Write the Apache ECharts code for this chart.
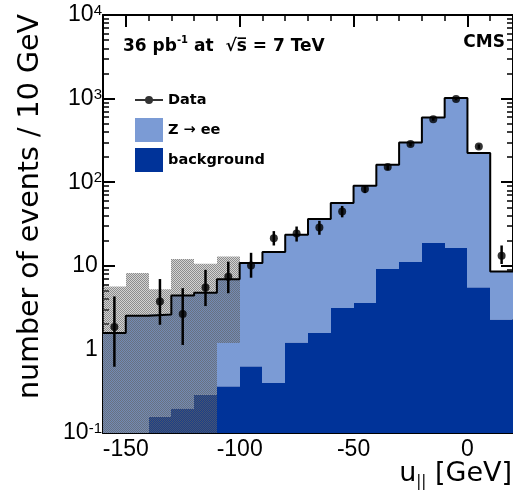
<!DOCTYPE html>
<html>
<head>
<meta charset="utf-8">
<script src="https://cdn.jsdelivr.net/npm/echarts@6/dist/echarts.min.js"></script>
<style>
  html, body { margin: 0; padding: 0; background: #fff; }
  #chart { width: 513px; height: 498px; }
</style>
</head>
<body>
<div id="chart"></div>
<script>
// u_parallel distribution in 10 GeV bins from -160 to 20 GeV
const binWidth = 10;
const binCenters = [-155, -145, -135, -125, -115, -105, -95, -85, -75, -65, -55, -45, -35, -25, -15, -5, 5, 15];

// stacked prediction: total (Z -> ee + background) and the background alone
const totalMC = [1.57, 2.52, 2.62, 4.4, 4.75, 6.9, 10.8, 14.6, 23.5, 36.2, 56.2, 90.6, 161.5, 298, 594, 1014, 223, 8.55];
const background = [null, null, 0.156, 0.194, 0.286, 0.36, 0.624, 0.395, 1.2, 1.57, 3.12, 3.58, 9.13, 11.1, 18.7, 16.3, 5.5, 2.26];

// hatched band over the low tail (null low edge = below the axis range)
const bandCenters = [-155, -145, -135, -125, -115, -105];
const bandLow = [null, null, null, null, null, 1.19];
const bandHigh = [5.65, 8.2, 5.26, 12.1, 10.6, 12.9];

// measured events with vertical error bars
const dataX = [-155, -135, -125, -115, -105, -95, -85, -75, -65, -55, -45, -35, -25, -15, -5, 5, 15];
const dataY = [1.85, 3.74, 2.66, 5.5, 7.4, 10.1, 21.4, 24.3, 28.7, 44.6, 82.7, 151.6, 285.6, 568, 986, 267, 13.2];
const dataLow = [0.62, 1.97, 1.13, 3.3, 4.7, 7.2, 17.5, 19.5, 23.5, 38, 74, 140, 269, 544, 955, 251, 10.5];
const dataHigh = [4.3, 6.94, 5.4, 8.95, 11.2, 14.3, 26, 29.5, 34.5, 52, 92, 164, 303, 592, 1017, 283, 17.5];

// axis ticks and labels
const xMin = -160, xMax = 20;
const yMin = 0.1, yMax = 10000;
const xMajorTicks = [-150, -100, -50, 0];
const xTickLabels = ['-150', '-100', '-50', '0'];
const yMajorTicks = [0.1, 1, 10, 100, 1000, 10000];
const yTickBase = ['10', '1', '10', '10', '10', '10'];
const yTickExp = ['-1', '', '', '2', '3', '4'];

const xMinorTicks = [];
for (let v = xMin; v <= xMax; v += 10) xMinorTicks.push(v);
const yMinorTicks = [];
for (let d = -1; d <= 3; d++) {
  for (let k = 2; k <= 9; k++) yMinorTicks.push(+(k * Math.pow(10, d)).toPrecision(6));
}

const colZee = '#7b9bd5';
const colBkg = '#003399';

// soft checkered grey fill for the hatched band
function makeHatch() {
  const c = document.createElement('canvas');
  c.width = 2; c.height = 2;
  const g = c.getContext('2d');
  g.fillStyle = 'rgba(97,97,97,0.72)';
  g.fillRect(0, 0, 1, 1);
  g.fillRect(1, 1, 1, 1);
  g.fillStyle = 'rgba(97,97,97,0.28)';
  g.fillRect(1, 0, 1, 1);
  g.fillRect(0, 1, 1, 1);
  return c;
}
const hatchFill = { image: makeHatch(), repeat: 'repeat' };

// box spanning one bin between a low and a high value (snapped to whole pixels)
function binBox(fill) {
  return function (params, api) {
    const c = api.value(0);
    const hi = api.value(1);
    const lo = api.value(2);
    const p0 = api.coord([c - binWidth / 2, hi]);
    const p1 = api.coord([c + binWidth / 2, lo]);
    const x0 = Math.round(p0[0]);
    const x1 = Math.round(p1[0]);
    return {
      type: 'rect',
      shape: { x: x0, y: p0[1], width: x1 - x0, height: p1[1] - p0[1] },
      style: { fill: fill }
    };
  };
}

const zeeData = binCenters.map((c, i) => [c, totalMC[i], background[i] != null ? background[i] : yMin]);
const bkgData = [];
binCenters.forEach((c, i) => { if (background[i] != null) bkgData.push([c, background[i], yMin]); });
const bandData = bandCenters.map((c, i) => [c, bandHigh[i], bandLow[i] != null ? bandLow[i] : yMin]);

// step outline of the total prediction, drawn from the bin edges
const stepData = binCenters.map((c, i) => [c - binWidth / 2, totalMC[i]]);
stepData.push([binCenters[binCenters.length - 1] + binWidth / 2, totalMC[totalMC.length - 1]]);

const pointData = dataX.map((x, i) => [x, dataY[i]]);
const errData = dataX.map((x, i) => [x, dataHigh[i], dataLow[i]]);

const black = '#000';
const lineStyle = { color: black, width: 2 };

function xAxisDef(pos, ticks, len, withLine, withLabels) {
  return {
    type: 'value', min: xMin, max: xMax, position: pos,
    axisLine: { show: withLine, onZero: false, lineStyle: lineStyle },
    axisTick: { show: true, inside: true, length: len, customValues: ticks, lineStyle: { color: black, width: len > 8 ? 2 : 1.5 } },
    axisLabel: withLabels ? {
      show: true, customValues: xMajorTicks, margin: 5,
      fontSize: 23, fontFamily: 'Liberation Sans', color: black,
      formatter: v => xTickLabels[xMajorTicks.indexOf(v)]
    } : { show: false },
    splitLine: { show: false }
  };
}

function yAxisDef(pos, ticks, len, withLine, withLabels) {
  return {
    type: 'log', logBase: 10, min: yMin, max: yMax, position: pos,
    axisLine: { show: withLine, onZero: false, lineStyle: lineStyle },
    axisTick: { show: true, inside: true, length: len, customValues: ticks, lineStyle: { color: black, width: len > 8 ? 2 : 1.5 } },
    axisLabel: withLabels ? {
      show: true, customValues: yMajorTicks, margin: 1,
      formatter: v => {
        const e = Math.round(Math.log10(v));
        const i = yMajorTicks.findIndex(t => Math.round(Math.log10(t)) === e);
        return '{b|' + yTickBase[i] + '}{s|' + (yTickExp[i] || ' ') + '}';
      },
      rich: {
        b: { fontSize: 23, fontFamily: 'Liberation Sans', color: black, lineHeight: 23, verticalAlign: 'bottom' },
        s: { fontSize: 15, fontFamily: 'Liberation Sans', color: black, lineHeight: 15, padding: [0, 0, 14, 0], verticalAlign: 'top' }
      }
    } : { show: false },
    splitLine: { show: false }
  };
}

const chart = echarts.init(document.getElementById('chart'), null, { renderer: 'canvas' });
chart.setOption({
  animation: false,
  backgroundColor: '#fff',
  grid: { left: 103, top: 15, right: -1, bottom: 65, containLabel: false },
  xAxis: [
    xAxisDef('bottom', xMajorTicks, 12, true, true),
    xAxisDef('bottom', xMinorTicks, 6, false, false),
    xAxisDef('top', xMajorTicks, 12, true, false),
    xAxisDef('top', xMinorTicks, 6, false, false)
  ],
  yAxis: [
    yAxisDef('left', yMajorTicks, 12, true, true),
    yAxisDef('left', yMinorTicks, 6, false, false),
    yAxisDef('right', yMajorTicks, 12, true, false),
    yAxisDef('right', yMinorTicks, 6, false, false)
  ],
  legend: {
    orient: 'vertical', left: 130, top: 83,
    itemWidth: 28, itemHeight: 24, itemGap: 6,
    selectedMode: false,
    textStyle: { fontFamily: 'DejaVu Sans', fontWeight: 'bold', fontSize: 14.5, color: black },
    data: [
      { name: 'Data', icon: 'path://M0,0M28,24M0,11h28v2H0zM18,12a4,4 0 1 1 -8,0a4,4 0 1 1 8,0z' },
      { name: 'Z → ee', icon: 'rect' },
      { name: 'background', icon: 'rect' }
    ]
  },
  series: [
    {
      name: 'Z → ee', type: 'custom', clip: true, z: 1,
      itemStyle: { color: colZee },
      renderItem: binBox(colZee), data: zeeData
    },
    {
      name: 'background', type: 'custom', clip: true, z: 2,
      itemStyle: { color: colBkg },
      renderItem: binBox(colBkg), data: bkgData
    },
    {
      name: 'band', type: 'custom', clip: true, z: 3,
      renderItem: binBox(hatchFill), data: bandData
    },
    {
      name: 'prediction', type: 'line', step: 'end', z: 4,
      showSymbol: false, symbol: 'none',
      lineStyle: { color: black, width: 2 },
      data: stepData
    },
    {
      name: 'errors', type: 'custom', z: 5, clip: true,
      renderItem: function (params, api) {
        const x = api.value(0);
        const p0 = api.coord([x, api.value(1)]);
        const p1 = api.coord([x, api.value(2)]);
        return {
          type: 'line',
          shape: { x1: p0[0], y1: p0[1], x2: p1[0], y2: p1[1] },
          style: { stroke: black, lineWidth: 2.5 }
        };
      },
      data: errData
    },
    {
      name: 'Data', type: 'scatter', z: 6,
      symbol: 'circle', symbolSize: 8,
      itemStyle: { color: black },
      data: pointData
    }
  ],
  graphic: [
    {
      type: 'text', x: 31, y: 14, rotation: Math.PI / 2,
      style: {
        text: 'number of events / 10 GeV',
        font: '28.5px "DejaVu Sans"', fill: black,
        align: 'right', verticalAlign: 'middle', textAlign: 'right', textVerticalAlign: 'middle'
      }
    },
    {
      type: 'text', x: 512, y: 460,
      style: {
        text: '{t|u}{s|||}{t| [GeV]}',
        align: 'right', verticalAlign: 'top', textAlign: 'right', textVerticalAlign: 'top',
        rich: {
          t: { fontSize: 27, fontFamily: 'DejaVu Sans', fill: black, lineHeight: 30, verticalAlign: 'top' },
          s: { fontSize: 15, fontFamily: 'DejaVu Sans', fill: black, lineHeight: 16, verticalAlign: 'bottom' }
        }
      }
    },
    {
      type: 'text', x: 123, y: 45,
      style: {
        text: '{b|36 pb}{s|-1}{b| at  √s\u0305 = 7 TeV}',
        align: 'left', verticalAlign: 'middle', textAlign: 'left', textVerticalAlign: 'middle',
        rich: {
          b: { fontSize: 17, fontFamily: 'DejaVu Sans', fontWeight: 'bold', fill: black, lineHeight: 20, verticalAlign: 'bottom' },
          s: { fontSize: 10, fontFamily: 'DejaVu Sans', fontWeight: 'bold', fill: black, lineHeight: 10, padding: [0, 0, 10, 0], verticalAlign: 'top' }
        }
      }
    },
    {
      type: 'text', x: 505, y: 43,
      style: {
        text: 'CMS',
        font: 'bold 17px "DejaVu Sans"', fill: black,
        align: 'right', verticalAlign: 'middle', textAlign: 'right', textVerticalAlign: 'middle'
      }
    }
  ]
});
</script>
</body>
</html>
